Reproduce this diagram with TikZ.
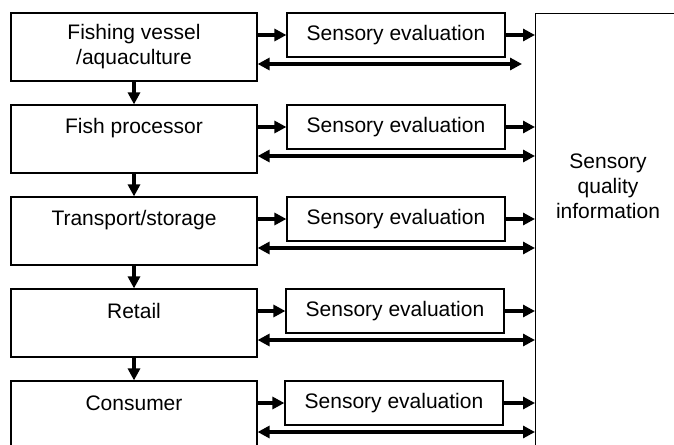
\documentclass[tikz,border=0pt]{standalone}
\usepackage{fontspec}
\setmainfont{Liberation Sans}
\usetikzlibrary{arrows.meta}

\tikzset{every picture/.style={line width=1.2pt}}

\begin{document}
\begin{tikzpicture}[x=1pt,y=1pt,yscale=-1,xscale=1,
	stagebox/.style={draw, minimum width=246pt, minimum height=68pt, inner sep=0pt},
	evalbox/.style={draw, minimum width=218pt, minimum height=44pt, inner sep=0pt, font=\fontsize{21}{25}\selectfont},
	stagetext/.style={font=\fontsize{21}{25}\selectfont, align=center, inner sep=0pt},
	flow/.style={line width=3.6pt, -{Triangle[length=12pt,width=12pt]}},
	flowback/.style={line width=3.6pt, {Triangle[length=12pt,width=12pt]}-{Triangle[length=12pt,width=12pt]}}]
	\useasboundingbox (0,0) rectangle (674,444);
	\clip (0,0) rectangle (674,444);

	%Shape: Rectangle [id:info]
	\node [draw, minimum width=180pt, minimum height=480pt, anchor=north west, inner sep=0pt] (info) at (535,13) {};
	% Text Node
	\node [stagetext] (infotext) at (608,186) {Sensory\\quality\\information};

	%Shape: Rectangle [id:vessel]
	\node [stagebox] (vessel) at (134,47) {};
	\node [stagetext] (vesseltext) at (134,47) {Fishing vessel\\/aquaculture};
	\node [evalbox] (eval1) at (396,35) {Sensory evaluation};
	%Shape: Rectangle [id:processor]
	\node [stagebox] (processor) at (134,139) {};
	\node [stagetext] (processortext) at (134,128) {Fish processor};
	\node [evalbox] (eval2) at (396,127) {Sensory evaluation};
	%Shape: Rectangle [id:transport]
	\node [stagebox] (transport) at (134,231) {};
	\node [stagetext] (transporttext) at (134,220) {Transport/storage};
	\node [evalbox] (eval3) at (396,219) {Sensory evaluation};
	%Shape: Rectangle [id:retail]
	\node [stagebox] (retail) at (134,323) {};
	\node [stagetext] (retailtext) at (134,311) {Retail};
	\node [evalbox] (eval4) at (395,311) {Sensory evaluation};
	%Shape: Rectangle [id:consumer]
	\node [stagebox] (consumer) at (134,415) {};
	\node [stagetext] (consumertext) at (134,403) {Consumer};
	\node [evalbox] (eval5) at (394,403) {Sensory evaluation};

	%Straight Lines [id:down]
	\draw [flow] (vessel) -- (processor);
	\draw [flow] (processor) -- (transport);
	\draw [flow] (transport) -- (retail);
	\draw [flow] (retail) -- (consumer);

	%Straight Lines [id:toeval]
	\draw [flow] (eval1.west -| vessel.east) -- (eval1.west);
	\draw [flow] (eval2.west -| processor.east) -- (eval2.west);
	\draw [flow] (eval3.west -| transport.east) -- (eval3.west);
	\draw [flow] (eval4.west -| retail.east) -- (eval4.west);
	\draw [flow] (eval5.west -| consumer.east) -- (eval5.west);

	%Straight Lines [id:toinfo]
	\draw [flow] (eval1.east) -- (eval1.east -| info.west);
	\draw [flow] (eval2.east) -- (eval2.east -| info.west);
	\draw [flow] (eval3.east) -- (eval3.east -| info.west);
	\draw [flow] (eval4.east) -- (eval4.east -| info.west);
	\draw [flow] (eval5.east) -- (eval5.east -| info.west);

	%Straight Lines [id:feedback]
	\coordinate (back1) at (522,64);
	\draw [flowback] (vessel.east |- back1) -- (back1);
	\draw [flowback] (processor.east |- 0,156) -- (info.west |- 0,156);
	\draw [flowback] (transport.east |- 0,248) -- (info.west |- 0,248);
	\draw [flowback] (retail.east |- 0,340) -- (info.west |- 0,340);
	\draw [flowback] (consumer.east |- 0,432) -- (info.west |- 0,432);

\end{tikzpicture}
\end{document}
